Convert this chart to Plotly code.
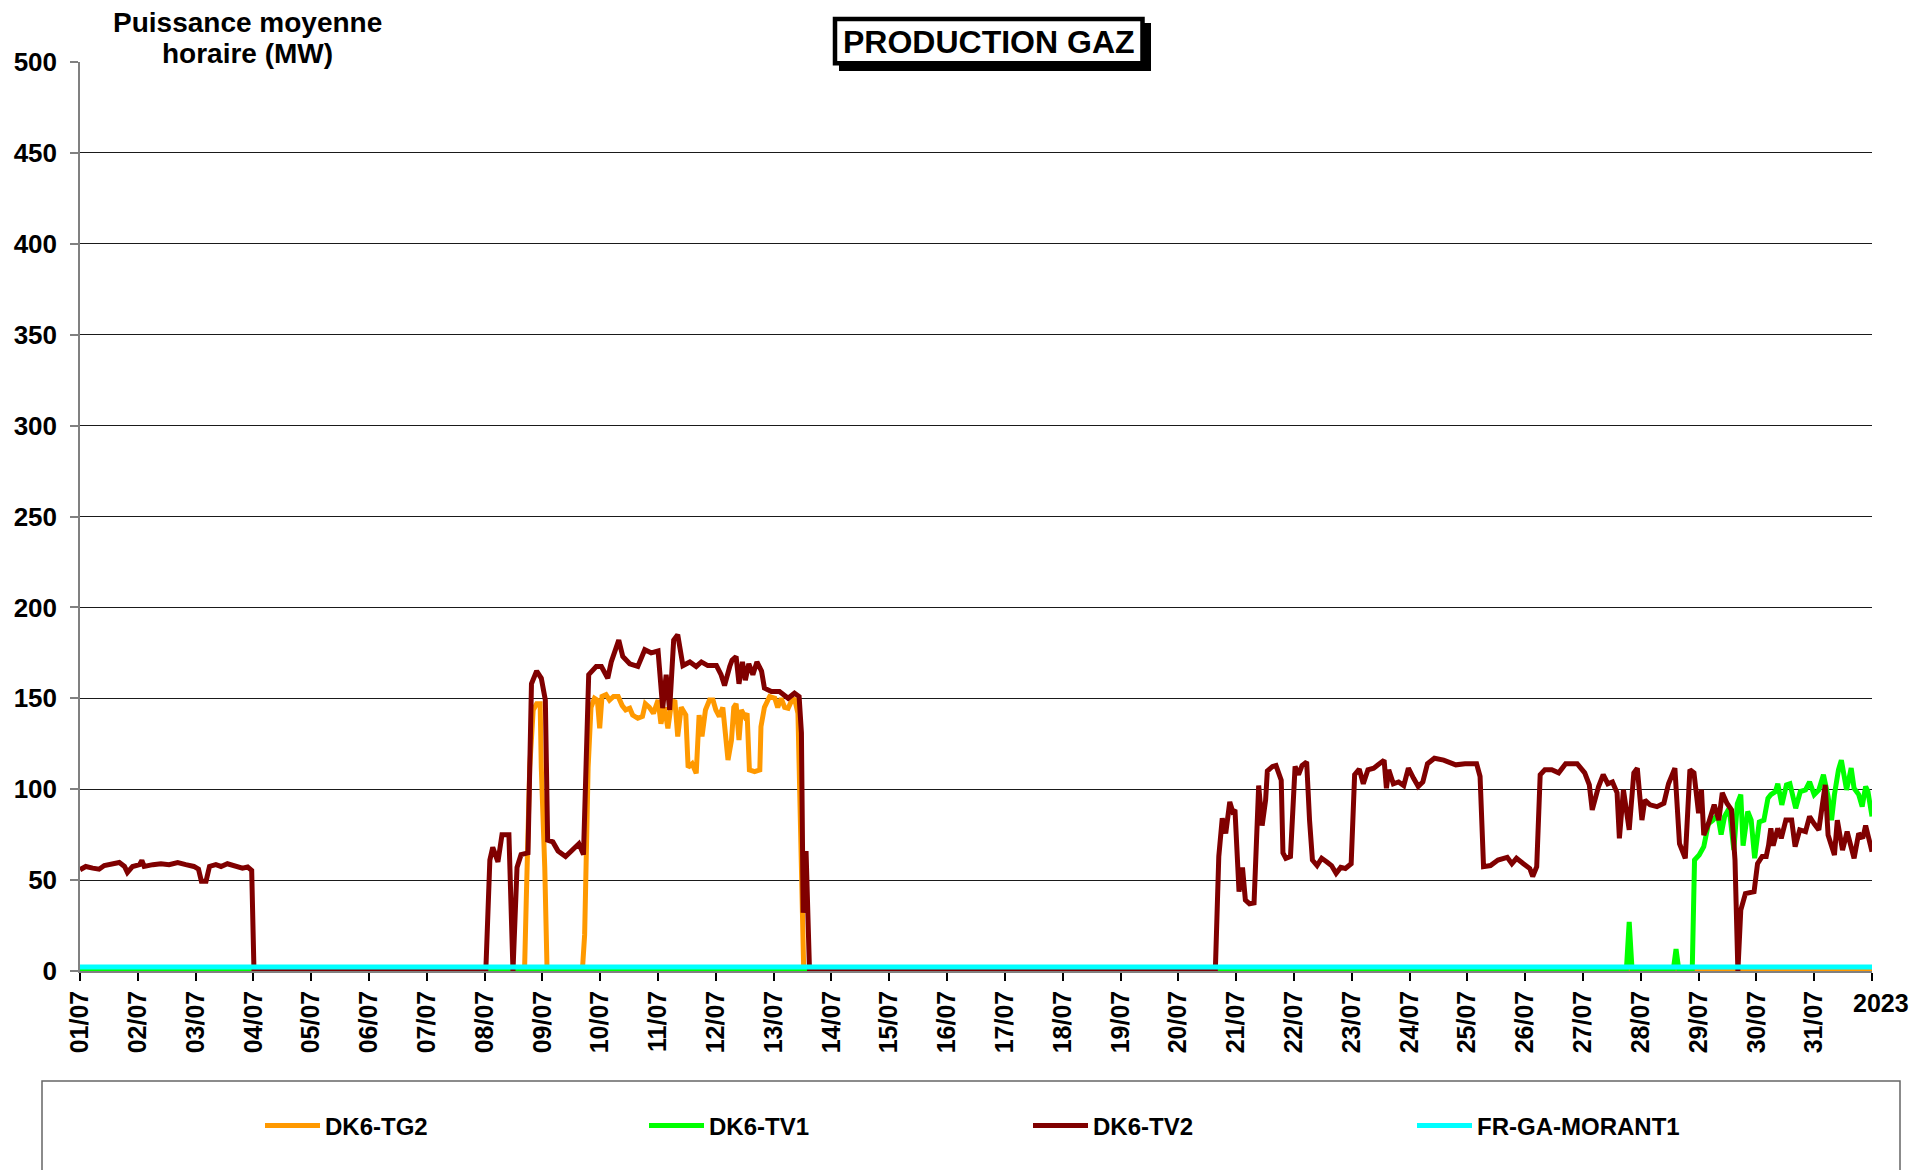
import pandas as pd
import plotly.graph_objects as go

# ---------------- data (hourly mean power, MW; time in days since 01/07/2023 00:00) ----------------
START = "2023-07-01"

TG2_DAY = [0, 7.69, 7.72, 7.78, 7.84, 7.90, 7.96, 7.98, 8.04, 8.08, 8.69, 8.73, 8.79, 8.84, 8.90, 8.95,
           8.99, 9.03, 9.10, 9.16, 9.23, 9.31, 9.38, 9.44, 9.51, 9.56, 9.65, 9.73, 9.78, 9.85, 9.92, 10.0,
           10.05, 10.11, 10.17, 10.23, 10.29, 10.34, 10.40, 10.48, 10.52, 10.59, 10.66, 10.71, 10.76, 10.82,
           10.89, 10.95, 11.0, 11.06, 11.12, 11.17, 11.21, 11.27, 11.31, 11.35, 11.40, 11.44, 11.50, 11.54,
           11.58, 11.67, 11.76, 11.78, 11.84, 11.93, 12.02, 12.07, 12.13, 12.19, 12.25, 12.30, 12.36, 12.42,
           12.46, 12.49, 12.52, 31.0]
TG2_MW = [0, 0, 39, 112, 143.6, 147, 147, 112, 57, 0, 0, 20, 112, 145, 150, 149,
          133.5, 151, 152, 149, 151, 151, 146, 143.6, 144.5, 140.8, 139, 140, 147, 145, 141.7, 149,
          136, 145, 133.5, 147, 149, 129, 145, 140.8, 112, 114, 108.7, 140.8, 129, 143.6,
          149, 149, 143.6, 140, 145, 127, 116, 127, 145, 147, 127, 143.6, 140, 141.7,
          110.6, 109.7, 110.6, 134.4, 145, 151, 150, 145, 150, 145, 144.5, 148, 150, 141.7,
          75.7, 20, 0, 0]

TV1_DAY = [0, 26.75, 26.80, 26.85, 27.56, 27.61, 27.66, 27.89, 27.93, 28.01, 28.09, 28.17, 28.25, 28.33,
           28.39, 28.45, 28.53, 28.61, 28.67, 28.73, 28.77, 28.85, 28.91, 28.97, 29.05, 29.13, 29.20, 29.25,
           29.33, 29.37, 29.44, 29.52, 29.58, 29.68, 29.76, 29.85, 29.92, 30.0, 30.08, 30.16, 30.24, 30.30,
           30.35, 30.42, 30.47, 30.56, 30.64, 30.69, 30.77, 30.83, 30.89, 30.93, 31.0]
TV1_MW = [0, 0, 27, 0, 0, 12, 0, 0, 61, 63.8, 68.4, 81, 83, 86,
          75, 85, 89.5, 66.5, 92, 97, 69, 87.7, 83, 62, 82, 83, 95, 97,
          98.7, 103, 91.4, 102.4, 103, 89.5, 98.7, 99.6, 104, 97, 99.6, 108, 96, 83,
          97, 110.7, 116, 99.6, 111.6, 100.5, 97, 90.4, 101.5, 98.7, 85]

TV2_DAY = [0, 0.10, 0.22, 0.33, 0.42, 0.54, 0.68, 0.77, 0.82, 0.91, 1.03, 1.07, 1.11, 1.26, 1.40, 1.54,
           1.69, 1.83, 1.97, 2.05, 2.10, 2.18, 2.24, 2.35, 2.44, 2.55, 2.70, 2.81, 2.90, 2.97, 3.01,
           7.02, 7.09, 7.14, 7.23, 7.30, 7.42, 7.49, 7.56, 7.63, 7.75, 7.81, 7.90, 7.98, 8.05, 8.09, 8.18,
           8.27, 8.40, 8.53, 8.63, 8.71, 8.80, 8.93, 9.02, 9.13, 9.19, 9.32, 9.39, 9.51, 9.65, 9.77, 9.88,
           10.0, 10.08, 10.14, 10.20, 10.27, 10.34, 10.43, 10.55, 10.66, 10.75, 10.86, 11.01, 11.09, 11.15,
           11.24, 11.28, 11.35, 11.40, 11.46, 11.51, 11.57, 11.64, 11.71, 11.79, 11.84, 11.96, 12.10, 12.25,
           12.36, 12.44, 12.48, 12.51, 12.56, 12.62,
           19.64, 19.70, 19.76, 19.82, 19.89, 19.94, 19.98, 20.05, 20.11, 20.16, 20.23, 20.31, 20.39, 20.45,
           20.51, 20.54, 20.63, 20.69, 20.78, 20.81, 20.86, 20.94, 21.02, 21.08, 21.14, 21.22, 21.27, 21.32,
           21.40, 21.48, 21.57, 21.65, 21.73, 21.81, 21.89, 21.99, 22.05, 22.13, 22.20, 22.28, 22.38, 22.46,
           22.56, 22.60, 22.64, 22.72, 22.81, 22.90, 22.98, 23.07, 23.15, 23.23, 23.31, 23.43, 23.59, 23.80,
           23.96, 24.16, 24.22, 24.28, 24.40, 24.53, 24.69, 24.77, 24.85, 24.97, 25.08, 25.13, 25.20, 25.26,
           25.34, 25.46, 25.58, 25.70, 25.90, 26.03, 26.11, 26.16, 26.27, 26.35, 26.43, 26.51, 26.59, 26.63,
           26.70, 26.80, 26.88, 26.94, 27.02, 27.07, 27.16, 27.28, 27.40, 27.48, 27.59, 27.67, 27.77, 27.85,
           27.92, 28.00, 28.05, 28.09, 28.17, 28.27, 28.35, 28.41, 28.49, 28.57, 28.63, 28.68, 28.73, 28.81,
           28.96, 29.02, 29.10, 29.17, 29.21, 29.25, 29.29, 29.37, 29.43, 29.51, 29.61, 29.67, 29.75, 29.85,
           29.92, 30.0, 30.08, 30.19, 30.24, 30.35, 30.40, 30.49, 30.57, 30.69, 30.77, 30.84, 30.89, 30.93,
           31.0]
TV2_MW = [55.7, 57.5, 56.6, 56, 58, 59, 59.7, 57.5, 54.2, 57.5, 58.5, 60.8, 57.5, 58.5, 59, 58.5,
          59.7, 58.5, 57.5, 56, 49.3, 49.3, 57.5, 58.5, 57.5, 59, 58, 56.6, 57.2, 55.3, 0,
          0, 61, 68, 60, 75, 75, 0, 57, 64, 65, 158, 165, 161, 149, 72, 71,
          66, 63, 67.5, 70, 64, 163, 167.5, 167.5, 161, 170, 182, 173, 169, 167.5, 176.7, 175,
          176, 144.6, 163, 143.6, 182, 185, 168, 170, 167.5, 170, 168, 168, 163, 157,
          167.5, 171, 173, 158, 170, 160, 169, 163, 170, 165, 155.6, 153.7, 153.7, 150,
          152.8, 151, 131, 32, 66, 0,
          0, 63, 84, 75.7, 93, 87.7, 88.6, 43.6, 57, 39, 37, 37.5, 102, 80,
          94, 110, 112.5, 113, 105, 65, 62, 63, 112.5, 108, 113, 115, 83, 61,
          58, 62, 60, 58, 53.7, 57, 56.4, 59, 108, 111, 103, 110.7, 111.6, 113.4,
          116, 100.5, 110.7, 103, 104, 102, 111.6, 106, 101.5, 104, 114, 117, 116, 113.4,
          114, 114, 107, 57.4, 58, 61, 62.5, 59, 62, 59, 56.4, 52, 57.4, 108,
          110.7, 110.7, 109, 114, 114, 109, 102.4, 88.6, 101.5, 108, 103, 104, 98, 73,
          99.6, 77.6, 109, 111.6, 83, 94, 91.4, 90.4, 92.3, 103, 111.6, 70, 62, 110.7,
          109, 86.8, 99.6, 74.8, 81, 91.4, 83, 98, 92.3, 88.6, 61, 0, 33.5, 42.6,
          43.6, 59, 63, 63, 69, 78.5, 69, 78.5, 73, 83, 83, 68.4, 77.6, 76.7,
          85, 81, 77.6, 102.4, 74.8, 63.8, 83, 66.5, 76.7, 62, 75.7, 73, 80, 74.8,
          65.6]

MORANT1_DAY = [0, 31.0]
MORANT1_MW = [2.2, 2.2]

SERIES_NAMES = ["DK6-TG2", "DK6-TV1", "DK6-TV2", "FR-GA-MORANT1"]
SERIES_COLORS = ["#FF9900", "#00FF00", "#800000", "#00FFFF"]

TICK_DAYS = list(range(0, 32))
TICK_LABELS = ["01/07", "02/07", "03/07", "04/07", "05/07", "06/07", "07/07", "08/07", "09/07", "10/07",
               "11/07", "12/07", "13/07", "14/07", "15/07", "16/07", "17/07", "18/07", "19/07", "20/07",
               "21/07", "22/07", "23/07", "24/07", "25/07", "26/07", "27/07", "28/07", "29/07", "30/07",
               "31/07", ""]
Y_TICKS = [0, 50, 100, 150, 200, 250, 300, 350, 400, 450, 500]

# ---------------- layout geometry ----------------
W, H = 1915, 1170
ML, MR, MT, MB = 80, 43, 62, 199
PW, PH = W - ML - MR, H - MT - MB


def px(x):
    return (x - ML) / PW


def py(y):
    return (H - MB - y) / PH


def to_dates(days):
    return pd.Timestamp(START) + pd.to_timedelta(days, unit="D")


FONT = "Liberation Sans, Arial, sans-serif"

fig = go.Figure()
series = [(TG2_DAY, TG2_MW), (TV1_DAY, TV1_MW), (TV2_DAY, TV2_MW), (MORANT1_DAY, MORANT1_MW)]
for (days, vals), name, col in zip(series, SERIES_NAMES, SERIES_COLORS):
    fig.add_trace(go.Scatter(x=to_dates(days), y=vals, mode="lines", name=name,
                             line=dict(color=col, width=5)))

fig.update_layout(
    width=W, height=H,
    margin=dict(l=ML, r=MR, t=MT, b=MB),
    paper_bgcolor="white", plot_bgcolor="white",
    showlegend=True,
    legend=dict(orientation="h", xref="container", yref="container",
                x=260 / W, xanchor="left", y=1 - 1126 / H, yanchor="middle",
                itemwidth=55, entrywidth=314, entrywidthmode="pixels",
                font=dict(family=FONT, size=24, color="black", weight="bold"),
                bgcolor="rgba(0,0,0,0)"),
    xaxis=dict(type="date", range=[to_dates(0), to_dates(31)],
               tickmode="array", tickvals=to_dates(TICK_DAYS), ticktext=TICK_LABELS,
               tickangle=-90, ticks="outside", ticklen=8, tickwidth=1.5, tickcolor="black",
               showgrid=False, showline=True, linecolor="#808080", linewidth=1.5,
               tickfont=dict(family=FONT, size=25, color="black", weight="bold"), zeroline=False),
    yaxis=dict(range=[0, 500], tickmode="array", tickvals=Y_TICKS,
               ticks="outside", ticklen=8, tickwidth=1.5, tickcolor="#808080",
               ticklabelstandoff=8,
               showline=True, linecolor="#808080", linewidth=1.5,
               showgrid=True, gridcolor="#1a1a1a", gridwidth=1, zeroline=False,
               tickfont=dict(family=FONT, size=26, color="black", weight="bold")),
)

# legend frame
fig.add_shape(type="rect", xref="paper", yref="paper",
              x0=px(42), x1=px(1900), y0=py(1081), y1=py(1185),
              line=dict(color="#666666", width=1.5), fillcolor="rgba(0,0,0,0)", layer="above")
# white gap in the top gridline behind the y-axis title
fig.add_shape(type="rect", xref="paper", yref="paper",
              x0=px(97), x1=px(395), y0=py(56), y1=py(68),
              line=dict(width=0), fillcolor="white", layer="above")
# title box shadow + box
fig.add_shape(type="rect", xref="paper", yref="paper",
              x0=px(839), x1=px(1151), y0=py(23), y1=py(71),
              line=dict(width=0), fillcolor="black", layer="above")
fig.add_shape(type="rect", xref="paper", yref="paper",
              x0=px(835), x1=px(1142.5), y0=py(19), y1=py(63.3),
              line=dict(color="black", width=4.5), fillcolor="white", layer="above")

fig.add_annotation(text="<b>Puissance moyenne</b>", xref="paper", yref="paper",
                   x=px(247), y=py(22), xanchor="center", yanchor="middle",
                   showarrow=False, font=dict(family=FONT, size=28, color="black"))
fig.add_annotation(text="<b>horaire (MW)</b>", xref="paper", yref="paper",
                   x=px(247), y=py(54), xanchor="center", yanchor="middle",
                   showarrow=False, font=dict(family=FONT, size=28, color="black"))
fig.add_annotation(text="<b>PRODUCTION GAZ</b>", xref="paper", yref="paper",
                   x=px(989), y=py(42), xanchor="center", yanchor="middle",
                   showarrow=False, font=dict(family=FONT, size=32, color="black"))
fig.add_annotation(text="<b>2023</b>", xref="paper", yref="paper",
                   x=px(1881), y=py(1003), xanchor="center", yanchor="middle",
                   showarrow=False, font=dict(family=FONT, size=25, color="black"))

fig.write_html("out.html", config={"displayModeBar": False},
               post_script="document.body.style.margin='0';")
